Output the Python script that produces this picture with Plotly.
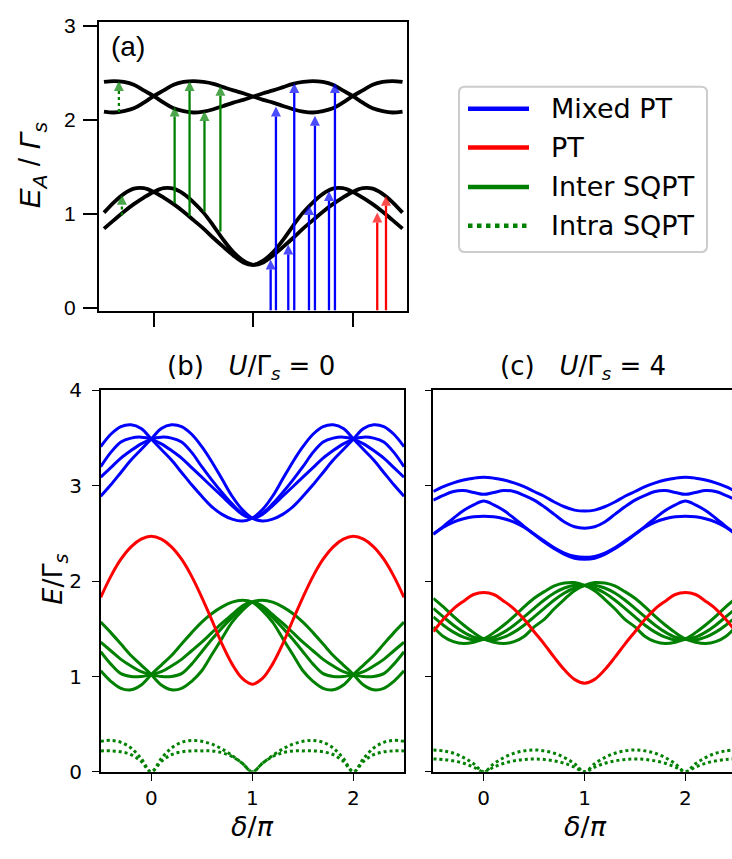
import plotly.graph_objects as go

W, H = 732, 859


def px(v):
    return v / W


def py(v):
    return 1 - v / H


# ---------------- panel (a): Andreev levels vs phase ----------------
phase_a = [-1.5, -1.4, -1.3, -1.2, -1.1, -1.0, -0.9, -0.8, -0.7, -0.6, -0.5,
           -0.4, -0.3, -0.2, -0.1, 0.0, 0.1, 0.2, 0.3, 0.4, 0.5,
           0.6, 0.7, 0.8, 0.9, 1.0, 1.1, 1.2, 1.3, 1.4, 1.5]
lower_1 = [1.01, 1.12, 1.21, 1.265, 1.27, 1.23, 1.17, 1.10, 1.02, 0.93, 0.84,
           0.74, 0.645, 0.555, 0.48, 0.455, 0.50, 0.59, 0.72, 0.87, 1.01,
           1.12, 1.21, 1.265, 1.27, 1.23, 1.17, 1.10, 1.02, 0.93, 0.84]
lower_2 = [0.84, 0.93, 1.02, 1.10, 1.17, 1.23, 1.27, 1.265, 1.21, 1.12, 1.01,
           0.87, 0.72, 0.59, 0.50, 0.455, 0.48, 0.555, 0.645, 0.74, 0.84,
           0.93, 1.02, 1.10, 1.17, 1.23, 1.27, 1.265, 1.21, 1.12, 1.01]
upper_1 = [2.40, 2.41, 2.40, 2.37, 2.31, 2.25, 2.18, 2.12, 2.09, 2.075, 2.085,
           2.11, 2.145, 2.18, 2.21, 2.245, 2.28, 2.31, 2.345, 2.38, 2.40,
           2.41, 2.40, 2.37, 2.31, 2.25, 2.18, 2.12, 2.09, 2.075, 2.085]
upper_2 = [2.085, 2.075, 2.09, 2.12, 2.18, 2.25, 2.31, 2.37, 2.40, 2.41, 2.40,
           2.38, 2.345, 2.31, 2.28, 2.245, 2.21, 2.18, 2.145, 2.11, 2.085,
           2.075, 2.09, 2.12, 2.18, 2.25, 2.31, 2.37, 2.40, 2.41, 2.40]

# transition arrows in (a): position, start level, end level
inter_x = [-0.79, -0.64, -0.49, -0.33]
inter_from = [1.11, 0.97, 1.02, 0.81]
inter_to = [2.14, 2.41, 2.09, 2.36]
intra_x = [-1.35, -1.32]
intra_from = [2.08, 0.98]
intra_to = [2.41, 1.20]
mixed_x = [0.175, 0.228, 0.352, 0.412, 0.56, 0.62, 0.761, 0.821]
mixed_from = [-0.03, -0.03, -0.03, -0.03, -0.03, -0.03, -0.03, -0.03]
mixed_to = [0.51, 2.14, 0.67, 2.39, 1.09, 2.04, 1.24, 2.39]
pt_x = [1.246, 1.334]
pt_from = [-0.03, -0.03]
pt_to = [1.01, 1.19]

# ---------------- panels (b), (c): transition energies vs delta/pi ----------------
delta = [-0.5, -0.4, -0.3, -0.2, -0.1, 0.0, 0.1, 0.2, 0.3, 0.4, 0.5,
         0.6, 0.7, 0.8, 0.9, 1.0, 1.1, 1.2, 1.3, 1.4, 1.5,
         1.6, 1.7, 1.8, 1.9, 2.0, 2.1, 2.2, 2.3, 2.4, 2.5]

# (b) U/Gamma_s = 0
b_mixed_1 = [3.41, 3.54, 3.62, 3.64, 3.60, 3.49, 3.38, 3.27, 3.14, 3.01, 2.89,
             2.78, 2.70, 2.65, 2.63, 2.66, 2.75, 2.89, 3.07, 3.25, 3.41,
             3.54, 3.62, 3.64, 3.60, 3.49, 3.38, 3.27, 3.14, 3.01, 2.89]
b_mixed_2 = [2.89, 3.01, 3.14, 3.27, 3.38, 3.49, 3.60, 3.64, 3.62, 3.54, 3.41,
             3.25, 3.07, 2.89, 2.75, 2.66, 2.63, 2.65, 2.70, 2.78, 2.89,
             3.01, 3.14, 3.27, 3.38, 3.49, 3.60, 3.64, 3.62, 3.54, 3.41]
b_mixed_3 = [3.09, 3.19, 3.29, 3.37, 3.44, 3.49, 3.51, 3.50, 3.46, 3.35, 3.20,
             3.06, 2.93, 2.81, 2.71, 2.66, 2.70, 2.79, 2.89, 2.99, 3.09,
             3.19, 3.29, 3.37, 3.44, 3.49, 3.51, 3.50, 3.46, 3.35, 3.20]
b_mixed_4 = [3.20, 3.35, 3.46, 3.50, 3.51, 3.49, 3.44, 3.37, 3.29, 3.19, 3.09,
             2.99, 2.89, 2.79, 2.70, 2.66, 2.71, 2.81, 2.93, 3.06, 3.20,
             3.35, 3.46, 3.50, 3.51, 3.49, 3.44, 3.37, 3.29, 3.19, 3.09]
b_pt = [1.83, 2.05, 2.23, 2.36, 2.44, 2.47, 2.44, 2.36, 2.23, 2.05, 1.83,
        1.59, 1.34, 1.13, 0.98, 0.92, 0.98, 1.13, 1.34, 1.59, 1.83,
        2.05, 2.23, 2.36, 2.44, 2.47, 2.44, 2.36, 2.23, 2.05, 1.83]
b_inter_1 = [1.06, 0.95, 0.875, 0.86, 0.91, 1.02, 1.12, 1.22, 1.34, 1.46, 1.57,
             1.66, 1.73, 1.78, 1.80, 1.78, 1.69, 1.57, 1.40, 1.23, 1.06,
             0.95, 0.875, 0.86, 0.91, 1.02, 1.12, 1.22, 1.34, 1.46, 1.57]
b_inter_2 = [1.57, 1.46, 1.34, 1.22, 1.12, 1.02, 0.91, 0.86, 0.875, 0.95, 1.06,
             1.23, 1.40, 1.57, 1.69, 1.78, 1.80, 1.78, 1.73, 1.66, 1.57,
             1.46, 1.34, 1.22, 1.12, 1.02, 0.91, 0.86, 0.875, 0.95, 1.06]
b_inter_3 = [1.36, 1.27, 1.18, 1.11, 1.05, 1.02, 1.00, 1.00, 1.03, 1.13, 1.26,
             1.39, 1.51, 1.62, 1.72, 1.78, 1.74, 1.65, 1.56, 1.46, 1.36,
             1.27, 1.18, 1.11, 1.05, 1.02, 1.00, 1.00, 1.03, 1.13, 1.26]
b_inter_4 = [1.26, 1.13, 1.03, 1.00, 1.00, 1.02, 1.05, 1.11, 1.18, 1.27, 1.36,
             1.46, 1.56, 1.65, 1.74, 1.78, 1.72, 1.62, 1.51, 1.39, 1.26,
             1.13, 1.03, 1.00, 1.00, 1.02, 1.05, 1.11, 1.18, 1.27, 1.36]
b_intra_1 = [0.32, 0.33, 0.31, 0.25, 0.14, 0.0, 0.14, 0.25, 0.31, 0.33, 0.32,
             0.29, 0.24, 0.17, 0.09, 0.0, 0.09, 0.17, 0.24, 0.29, 0.32,
             0.33, 0.31, 0.25, 0.14, 0.0, 0.14, 0.25, 0.31, 0.33, 0.32]
b_intra_2 = [0.22, 0.22, 0.21, 0.18, 0.11, 0.0, 0.11, 0.18, 0.21, 0.22, 0.22,
             0.22, 0.20, 0.16, 0.09, 0.0, 0.09, 0.16, 0.20, 0.22, 0.22,
             0.22, 0.21, 0.18, 0.11, 0.0, 0.11, 0.18, 0.21, 0.22, 0.22]

# (c) U/Gamma_s = 4
c_mixed_1 = [2.94, 2.99, 3.03, 3.06, 3.08, 3.09, 3.08, 3.06, 3.03, 2.99, 2.94,
             2.89, 2.83, 2.78, 2.745, 2.735, 2.745, 2.78, 2.83, 2.89, 2.94,
             2.99, 3.03, 3.06, 3.08, 3.09, 3.08, 3.06, 3.03, 2.99, 2.94]
c_mixed_2 = [2.85, 2.90, 2.94, 2.95, 2.93, 2.91, 2.93, 2.95, 2.94, 2.90, 2.85,
             2.78, 2.70, 2.62, 2.57, 2.555, 2.57, 2.62, 2.70, 2.78, 2.85,
             2.90, 2.94, 2.95, 2.93, 2.91, 2.93, 2.95, 2.94, 2.90, 2.85]
c_mixed_3 = [2.495, 2.575, 2.66, 2.74, 2.80, 2.84, 2.80, 2.74, 2.66, 2.575, 2.495,
             2.42, 2.35, 2.295, 2.26, 2.25, 2.26, 2.295, 2.35, 2.42, 2.495,
             2.575, 2.66, 2.74, 2.80, 2.84, 2.80, 2.74, 2.66, 2.575, 2.495]
c_mixed_4 = [2.49, 2.565, 2.62, 2.655, 2.675, 2.68, 2.675, 2.655, 2.62, 2.565, 2.49,
             2.41, 2.34, 2.28, 2.24, 2.23, 2.24, 2.28, 2.34, 2.41, 2.49,
             2.565, 2.62, 2.655, 2.675, 2.68, 2.675, 2.655, 2.62, 2.565, 2.49]
c_pt = [1.47, 1.60, 1.71, 1.79, 1.86, 1.88, 1.86, 1.79, 1.71, 1.60, 1.47,
        1.34, 1.20, 1.07, 0.97, 0.93, 0.97, 1.07, 1.20, 1.34, 1.47,
        1.60, 1.71, 1.79, 1.86, 1.88, 1.86, 1.79, 1.71, 1.60, 1.47]
c_inter_1 = [1.52, 1.42, 1.365, 1.345, 1.36, 1.395, 1.46, 1.54, 1.63, 1.73, 1.82,
             1.89, 1.95, 1.98, 1.985, 1.955, 1.90, 1.81, 1.71, 1.60, 1.52,
             1.42, 1.365, 1.345, 1.36, 1.395, 1.46, 1.54, 1.63, 1.73, 1.82]
c_inter_2 = [1.82, 1.73, 1.63, 1.54, 1.46, 1.395, 1.36, 1.345, 1.365, 1.42, 1.52,
             1.60, 1.71, 1.81, 1.90, 1.955, 1.985, 1.98, 1.95, 1.89, 1.82,
             1.73, 1.63, 1.54, 1.46, 1.395, 1.36, 1.345, 1.365, 1.42, 1.52]
c_inter_3 = [1.625, 1.538, 1.465, 1.412, 1.383, 1.39, 1.412, 1.465, 1.538, 1.625, 1.715,
             1.802, 1.875, 1.928, 1.957, 1.955, 1.928, 1.875, 1.802, 1.715, 1.625,
             1.538, 1.465, 1.412, 1.383, 1.39, 1.412, 1.465, 1.538, 1.625, 1.715]
c_inter_4 = [1.715, 1.625, 1.538, 1.465, 1.412, 1.39, 1.383, 1.412, 1.465, 1.538, 1.625,
             1.715, 1.802, 1.875, 1.928, 1.955, 1.957, 1.928, 1.875, 1.802, 1.715,
             1.625, 1.538, 1.465, 1.412, 1.39, 1.383, 1.412, 1.465, 1.538, 1.625]
c_intra_1 = [0.23, 0.22, 0.195, 0.15, 0.085, 0.0, 0.085, 0.15, 0.195, 0.22, 0.23,
             0.22, 0.195, 0.15, 0.085, 0.0, 0.085, 0.15, 0.195, 0.22, 0.23,
             0.22, 0.195, 0.15, 0.085, 0.0, 0.085, 0.15, 0.195, 0.22, 0.23]
c_intra_2 = [0.135, 0.13, 0.115, 0.09, 0.05, 0.0, 0.05, 0.09, 0.115, 0.13, 0.135,
             0.13, 0.115, 0.09, 0.05, 0.0, 0.05, 0.09, 0.115, 0.13, 0.135,
             0.13, 0.115, 0.09, 0.05, 0.0, 0.05, 0.09, 0.115, 0.13, 0.135]

legend_labels = ["Mixed PT", "PT", "Inter SQPT", "Intra SQPT"]

BLUE, RED, GREEN = "#0000ff", "#ff0000", "#008000"
SANS = "DejaVu Sans"
ARIAL = "Liberation Sans, Arial"

fig = go.Figure()


def curve(x, y, color, xa, ya, width=3.0, dash="solid"):
    fig.add_trace(go.Scatter(
        x=x, y=y, mode="lines", xaxis=xa, yaxis=ya, showlegend=False,
        hoverinfo="skip",
        line=dict(color=color, width=width, dash=dash, shape="spline", smoothing=1.0)))


# panel (a)
for ys in (lower_1, lower_2, upper_1, upper_2):
    curve(phase_a, ys, "black", "x", "y", width=3.8)


def arrow(x, y0, y1, color, dash="solid"):
    # vertical shaft + arrow-head marker whose tip sits on the end level
    fig.add_trace(go.Scatter(
        x=[x, x], y=[y0, y1], mode="lines+markers", xaxis="x", yaxis="y",
        showlegend=False, hoverinfo="skip",
        line=dict(color=color, width=2.3, dash=dash),
        marker=dict(symbol="arrow-up", size=[0, 10], color=color,
                    line=dict(width=0))))


for x, a, b in zip(inter_x, inter_from, inter_to):
    arrow(x, a, b, GREEN)
for x, a, b in zip(mixed_x, mixed_from, mixed_to):
    arrow(x, a, b, BLUE)
for x, a, b in zip(pt_x, pt_from, pt_to):
    arrow(x, a, b, RED)
for x, a, b in zip(intra_x, intra_from, intra_to):
    arrow(x, a, b, GREEN, dash="dot")

# panels (b) and (c)
for (xa, ya, mixed, pt, inter, intra) in (
        ("x2", "y2", (b_mixed_1, b_mixed_2, b_mixed_3, b_mixed_4), b_pt,
         (b_inter_1, b_inter_2, b_inter_3, b_inter_4), (b_intra_1, b_intra_2)),
        ("x3", "y3", (c_mixed_1, c_mixed_2, c_mixed_3, c_mixed_4), c_pt,
         (c_inter_1, c_inter_2, c_inter_3, c_inter_4), (c_intra_1, c_intra_2))):
    for ys in mixed:
        curve(delta, ys, BLUE, xa, ya)
    for ys in inter:
        curve(delta, ys, GREEN, xa, ya)
    curve(delta, pt, RED, xa, ya)
    for ys in intra:
        curve(delta, ys, GREEN, xa, ya, dash="dot")

axis_common = dict(showgrid=False, zeroline=False, showline=True, linecolor="black",
                   ticks="outside", tickcolor="black")

fig.update_layout(
    width=W, height=H, margin=dict(l=0, r=0, t=0, b=0), autosize=False,
    paper_bgcolor="white", plot_bgcolor="white", showlegend=False,
    xaxis=dict(domain=[px(99), px(407)], range=[-1.55, 1.545], anchor="y",
               tickvals=[-1, 0, 1], showticklabels=False, ticklen=14, tickwidth=2,
               linewidth=2, mirror=True, **axis_common),
    yaxis=dict(domain=[py(308), py(10)], range=[-0.041, 3.041], anchor="x",
               tickvals=[0, 1, 2, 3], ticklen=14, tickwidth=2, linewidth=2, mirror=True,
               ticklabelstandoff=3,
               tickfont=dict(family=ARIAL, size=21, color="black"), **axis_common),
    xaxis2=dict(domain=[px(100.7), px(404)], range=[-0.5, 2.5], anchor="y2",
                tickvals=[0, 1, 2], ticklen=7, tickwidth=1.3, linewidth=1.5, mirror=True,
                tickfont=dict(family=SANS, size=20, color="black"), **axis_common),
    yaxis2=dict(domain=[py(781.7), py(389.3)], range=[0, 4], anchor="x2",
                tickvals=[0, 1, 2, 3, 4], ticklen=7, tickwidth=1.3, linewidth=1.5, mirror=True,
                ticklabelstandoff=6,
                tickfont=dict(family=SANS, size=20, color="black"), **axis_common),
    xaxis3=dict(domain=[px(433.3), 1.0], range=[-0.5, 2.462], anchor="y3",
                tickvals=[0, 1, 2], ticklen=7, tickwidth=1.3, linewidth=1.5, mirror=True,
                tickfont=dict(family=SANS, size=20, color="black"), **axis_common),
    yaxis3=dict(domain=[py(781.7), py(389.3)], range=[0, 4], anchor="x3",
                tickvals=[0, 1, 2, 3, 4], ticklen=7, tickwidth=1.3, linewidth=1.5,
                showticklabels=False, **axis_common),
)


def text(s, x, y, size, family=SANS, angle=0, xanchor="center"):
    fig.add_annotation(text=s, x=px(x), y=py(y), xref="paper", yref="paper",
                       showarrow=False, textangle=angle, xanchor=xanchor, yanchor="middle",
                       font=dict(family=family, size=size, color="black"))


text("(a)", 109, 36, 28, family=ARIAL, xanchor="left")
text("<i>E</i><sub><i>A</i></sub> / <i>Γ</i><sub><i>s</i></sub>", 32, 158, 30,
     family=ARIAL, angle=-90)
text("(b)\u00a0\u00a0\u00a0<i>U</i>/Γ<sub><i>s</i></sub> = 0", 251, 366, 26)
text("(c)\u00a0\u00a0\u00a0<i>U</i>/Γ<sub><i>s</i></sub> = 4", 583, 366, 26)
text("<i>E</i>/Γ<sub><i>s</i></sub>", 55, 584, 27, angle=-90)
text("<i>δ</i>/<i>π</i>", 252, 838, 27)
text("<i>δ</i>/<i>π</i>", 585, 838, 27)

# legend (drawn as a framed key)
x0, x1, y0, y1, r = 459, 707, 77, 247, 6
path = (f"M{px(x0 + r)},{py(y0)} L{px(x1 - r)},{py(y0)} Q{px(x1)},{py(y0)} {px(x1)},{py(y0 + r)} "
        f"L{px(x1)},{py(y1 - r)} Q{px(x1)},{py(y1)} {px(x1 - r)},{py(y1)} "
        f"L{px(x0 + r)},{py(y1)} Q{px(x0)},{py(y1)} {px(x0)},{py(y1 - r)} "
        f"L{px(x0)},{py(y0 + r)} Q{px(x0)},{py(y0)} {px(x0 + r)},{py(y0)} Z")
fig.add_shape(type="path", path=path, xref="paper", yref="paper",
              line=dict(color="#cccccc", width=2), fillcolor="white")
rows = [99.5, 139.5, 180, 220]
styles = [(BLUE, "solid"), (RED, "solid"), (GREEN, "solid"), (GREEN, "dot")]
for label, yrow, (col, dash) in zip(legend_labels, rows, styles):
    fig.add_shape(type="line", x0=px(468), x1=px(529), y0=py(yrow), y1=py(yrow),
                  xref="paper", yref="paper", line=dict(color=col, width=4.5, dash=dash))
    text(label, 549, yrow, 27, xanchor="left")

fig.write_html("out.html")
